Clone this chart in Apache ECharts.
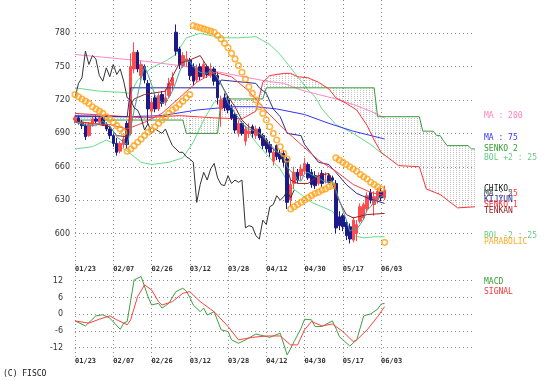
<!DOCTYPE html>
<html><head><meta charset="utf-8">
<script src="https://cdn.jsdelivr.net/npm/echarts@6/dist/echarts.min.js"></script>
<style>html,body{margin:0;padding:0;background:#fff}#c{width:554px;height:381px}</style>
</head><body><div id="c"></div>
<script>
// ---- tick labels ----
const tickLabels = ['01/23','02/07','02/26','03/12','03/28','04/12','04/30','05/17','06/03'];
const TICK_STEP = 11;
const N_CAT = 116;
const priceTicks = [600, 630, 660, 690, 720, 750, 780];
const macdTicks = [-12, -6, 0, 6, 12];

// ---- candles (index 0..89) ----
const opens = [702,704,700,697,688,698,703,700,704,698,694,688,681,674,680,699,690,748,763,742,
750,735,710,722,712,725,718,724,733,781,766,751,755,756,750,738,750,741,750,742,
748,742,712,722,720,713,707,690,699,683,690,696,688,694,688,684,680,665,679,672,
672,667,630,645,655,652,656,662,655,652,645,654,648,652,650,645,615,616,610,606,
594,600,611,614,622,637,626,630,638,632];
const highs = [706,706,702,699,700,705,706,705,706,700,696,690,686,683,688,701,762,772,765,755,
752,738,722,727,726,728,730,740,745,788,768,763,764,758,753,752,753,755,752,753,
750,745,724,726,724,716,709,702,701,697,699,698,697,696,690,686,683,676,680,675,
675,669,648,660,658,662,668,664,658,656,655,657,655,654,652,648,620,618,612,609,
615,612,627,628,637,640,638,641,641,643];
const lows = [699,698,694,684,687,696,699,698,697,692,685,678,670,672,677,676,688,744,745,738,
735,699,706,709,710,714,715,722,728,760,748,749,750,738,733,736,738,739,740,740,
733,716,696,710,708,702,690,687,688,679,686,686,685,684,676,673,669,661,666,664,
660,622,624,640,645,648,653,648,641,640,643,642,645,645,645,600,603,602,594,591,
592,593,609,612,619,627,616,627,629,630];
const closes = [704,700,697,687,698,703,701,704,698,694,688,681,673,681,685,680,750,763,748,752,
738,712,718,712,724,717,722,735,740,764,752,760,757,742,737,749,741,752,743,748,
737,722,720,713,711,704,693,699,690,694,692,690,694,686,679,676,673,673,669,667,
664,628,644,655,648,658,663,650,644,643,652,645,648,646,648,605,607,606,598,595,
612,608,624,626,634,630,633,638,632,639];

// ---- indicator lines: [barIndex, value] ----
const ma5 = [[0,700],[4,697],[6,697],[8,701],[10,697],[12,687],[14,682],[15,680],[16,694],[17,711],[18,724],[19,739],[20,750],[21,743],[22,734],[23,724],[24,721],[25,717],[26,719],[27,722],[28,728],[29,736],[30,745],[31,752],[32,755],[33,755],[34,750],[35,747],[36,745],[38,744],[39,747],[40,744],[41,740],[42,734],[43,728],[44,717],[45,714],[46,708],[47,704],[48,699],[49,696],[50,694],[52,692],[54,688],[56,680],[58,674],[60,669],[61,660],[62,656],[63,654],[64,648],[65,647],[66,654],[67,655],[68,653],[70,650],[72,646],[74,647],[75,639],[76,630],[77,621],[78,612],[79,602],[80,604],[81,604],[82,608],[83,613],[84,621],[85,624],[86,629],[87,632],[88,633],[89,634]];
const ma25 = [[0,700],[10,698],[15,694],[20,700],[25,708],[30,722],[35,736],[40,745],[45,741],[50,728],[55,710],[60,694],[65,680],[70,666],[75,656],[80,644],[85,637],[89,634]];
const ma75 = [[0,706],[15,705],[25,706],[35,711],[45,714],[52,714],[58,712],[66,707],[73,699],[80,692],[89,685]];
const ma200 = [[0,761],[10,758],[20,755],[30,751],[40,746],[50,740],[55,737],[60,735],[65,729],[70,725],[75,721],[80,716],[85,710],[89,704]];
const bolUp = [[0,731],[7,728],[13,727],[16,726],[18,738],[22,749],[26,755],[29,761],[32,776],[36,780],[42,776],[47,776],[52,777],[56,770],[59,761],[62,749],[65,737],[67,729],[69,723],[71,712],[75,698],[80,690],[85,680],[89,670]];
const bolDn = [[0,676],[5,678],[9,684],[12,680],[15,674],[19,664],[22,662],[27,664],[31,668],[34,682],[37,702],[40,718],[42,720],[45,712],[48,700],[52,682],[56,668],[59,658],[62,642],[65,635],[68,628],[71,624],[74,620],[77,608],[80,598],[83,596],[86,597],[89,597]];
const tenkan = [[0,701],[5,699],[10,696],[12,688],[15,687],[16,716],[17,721],[20,725],[26,728],[28,741],[30,753],[33,756],[36,760],[38,750],[41,740],[44,723],[46,714],[48,702],[50,696],[53,690],[56,679],[58,673],[60,670],[62,648],[64,645],[67,645],[70,652],[73,654],[75,636],[76,629],[78,617],[80,614],[84,617],[89,618]];
const kijun = [[0,705],[15,705],[16,731],[41,731],[42,738],[52,735],[53,731],[55,726],[57,712],[59,705],[61,690],[65,688],[66,680],[70,664],[73,662],[75,655],[78,644],[81,636],[84,632],[89,627]];
const senko1 = [[0,708],[10,706],[20,704],[30,706],[40,704],[48,703],[52,710],[54,736],[56,742],[60,744],[62,744],[64,741],[67,740],[70,736],[73,730],[75,722],[78,717],[81,711],[84,697],[86,684],[88,673],[93,661],[99,660],[100,650],[101,640],[105,635],[110,623],[115,624]];
const senko2 = [[0,702],[31,702],[32,690],[41,690],[42,721],[54,721],[55,731],[86,731],[87,705],[99,705],[100,692],[103,692],[104,688],[105,688],[106,683],[107,679],[113,679],[114,676],[115,676]];
const CHIKO_SHIFT = 26;
const sar = [725,723,721,719,717,714,712,710,708,705,703,700,697,694,691,
674,676,679,682,685,688,691,693,696,699,702,705,708,711,713,716,719,722,725,
787,786,785,784,783,782,781,778,775,771,767,762,757,751,745,739,732,726,720,714,708,702,696,690,684,678,672,667,
622,624,626,628,630,632,634,636,637,639,640,642,643,
668,666,664,662,660,658,656,653,651,649,646,644,642,640,
592];

// ---- MACD panel ----
const macd = [[0,-2.4],[3,-4.2],[6,-0.6],[8,-0.2],[10,-1.4],[13,-5.4],[14,-3.2],[15,-2.6],[17,12.3],[19,13.5],[21,6.3],[22,3.3],[24,3.9],[25,2.2],[27,3.9],[29,8.1],[31,9.3],[32,8.3],[33,6],[34,3.3],[36,0.9],[37,2.2],[38,-0.3],[40,0.9],[42,-5.6],[44,-6.2],[45,-9.2],[47,-10.4],[49,-9.2],[52,-7.1],[55,-8],[56,-8.3],[59,-6.8],[61,-14.6],[63,-9.8],[65,-5],[66,-1.8],[68,-2],[69,-4.4],[71,-4.4],[74,-2.4],[75,-5],[76,-8],[79,-11.4],[81,-9.2],[83,-0.6],[85,0.1],[87,1.8],[88,3.6],[89,3.9]];
const signal = [[0,-2.4],[4,-3.2],[7,-1.8],[10,-0.6],[12,-2],[15,-3.8],[16,-2],[18,6.3],[20,10.5],[22,8.7],[24,4.5],[25,3.3],[28,4.5],[31,7.5],[33,8.1],[36,4.5],[40,0.9],[44,-4.4],[47,-9.2],[51,-8.3],[55,-7.8],[59,-7.8],[62,-11],[64,-11],[66,-5.6],[68,-2.6],[71,-4.2],[74,-3.5],[77,-6.2],[80,-9.8],[81,-9.2],[84,-5.6],[87,-0.9],[89,2.7]];

// ---- build ----
const cats = Array.from({length: N_CAT}, (_, i) => String(i));
const isTick = i => i % TICK_STEP === 0 && i / TICK_STEP < tickLabels.length;
const fmtX = (v) => { const i = +v; return isTick(i) ? tickLabels[i / TICK_STEP] : ''; };
const candles = opens.map((o, i) => [o, closes[i], lows[i], highs[i]]);
const chiko = closes.map((c, i) => [i - CHIKO_SHIFT, c]).filter(p => p[0] >= 0);
const sarData = sar.map((v, i) => [i, v]);

const pc = document.createElement('canvas'); pc.width = 3; pc.height = 2;
const pg = pc.getContext('2d'); pg.fillStyle = '#c4c4c4'; pg.fillRect(0, 0, 1, 1);
const hatch = {type: 'pattern', image: pc, repeat: 'repeat'};

const dotted = {color: '#8a8a8a', type: [1, 3], width: 1};
const monoX = {fontFamily: 'DejaVu Sans Mono', fontWeight: 'bold', fontSize: 7, color: '#333'};

function line(data, color, z, xi, yi) {
  return {type: 'line', data, xAxisIndex: xi || 0, yAxisIndex: yi || 0, showSymbol: false, symbol: 'none',
    lineStyle: {color, width: 1}, z: z || 3, silent: true, clip: true};
}

const legend = [
  ['MA : 200', '#ff80c0', 116.5], ['MA : 75', '#3333ff', 138], ['SENKO 2', '#33a033', 149.3],
  ['BOL +2 : 25', '#66cc88', 158.3], ['CHIKO', '#111111', 189], ['MA : 25', '#ff3333', 194.5],
  ['MA : 5', '#339999', 194.5], ['KIJYUN', '#2a2a9a', 200], ['SENKO 1', '#ff3333', 205.7],
  ['TENKAN', '#992222', 211.7], ['BOL -2 : 25', '#66cc88', 236.3], ['PARABOLIC', '#ffaa22', 242.3],
  ['MACD', '#33a033', 282.7], ['SIGNAL', '#ff3333', 292.7]
];
const graphics = legend.map(([t, c, y]) => ({type: 'text', left: 484, top: y - 4.5,
  style: {text: t, fill: c, font: '8px "DejaVu Sans Mono"'}}));
graphics.push({type: 'text', left: 3, top: 369.5, style: {text: '(C) FISCO', fill: '#111', font: '8px "DejaVu Sans Mono"'}});

const chart = echarts.init(document.getElementById('c'), null, {renderer: 'canvas'});
chart.setOption({
  animation: false,
  backgroundColor: '#fff',
  grid: [
    {left: 75, width: 400, top: -5.8, height: 272.6},
    {left: 75, width: 400, top: 263.95, height: 100.5}
  ],
  xAxis: [0, 1].map(k => ({
    type: 'category', gridIndex: k, data: cats, boundaryGap: false,
    offset: k === 1 ? -7 : 0,
    axisLine: {show: false}, axisTick: {show: false},
    axisLabel: Object.assign({interval: (i) => isTick(i), formatter: fmtX, align: 'left', margin: k === 0 ? -1 : 0}, monoX),
    splitLine: {show: true, interval: (i) => isTick(i), lineStyle: dotted}
  })),
  yAxis: [
    {type: 'value', gridIndex: 0, min: 570, max: 810, interval: 30,
      axisLine: {show: false}, axisTick: {show: false},
      axisLabel: {fontSize: 8, fontFamily: 'DejaVu Sans', color: '#333', margin: 5,
        formatter: v => priceTicks.includes(v) ? String(v) : ''},
      splitLine: {show: true, lineStyle: dotted, showMinLine: false, showMaxLine: false}},
    {type: 'value', gridIndex: 1, min: -18, max: 18, interval: 6,
      axisLine: {show: false}, axisTick: {show: false},
      axisLabel: {fontSize: 8, fontFamily: 'DejaVu Sans', color: '#333', margin: 12,
        formatter: v => macdTicks.includes(v) ? String(v) : ''},
      splitLine: {show: true, lineStyle: dotted, showMinLine: false, showMaxLine: false}}
  ],
  graphic: graphics,
  series: [
    {type: 'custom', xAxisIndex: 0, yAxisIndex: 0, data: [[0, 700]], z: 1, silent: true,
      renderItem: (params, api) => {
        const pts = senko1.map(p => api.coord(p)).concat(senko2.slice().reverse().map(p => api.coord(p)));
        return {type: 'polygon', shape: {points: pts}, style: {fill: hatch, stroke: null}};
      }},
    line(bolUp, '#66dd88', 2), line(bolDn, '#66dd88', 2),
    line(ma200, '#ff88c8', 2), line(ma75, '#3333ff', 2),
    line(senko2, '#3a9a3a', 2), line(senko1, '#ff3333', 2),
    {type: 'candlestick', xAxisIndex: 0, yAxisIndex: 0, data: candles, barWidth: 3, z: 3, silent: true,
      itemStyle: {color: '#ff4d4d', color0: '#1a1a8a', borderColor: '#ff4d4d', borderColor0: '#1a1a8a', borderWidth: 1}},
    line(tenkan, '#992222', 4), line(kijun, '#2a2a9a', 4),
    line(ma25, '#ff4040', 4), line(ma5, '#40a0a0', 4),
    line(chiko, '#333333', 4),
    {type: 'scatter', xAxisIndex: 0, yAxisIndex: 0, data: sarData, symbol: 'circle', symbolSize: 5.5, z: 5, silent: true,
      itemStyle: {color: 'rgba(255,255,255,0)', borderColor: '#ffa31a', borderWidth: 1.6}},
    line(macd, '#40a040', 3, 1, 1), line(signal, '#ff4040', 3, 1, 1)
  ]
});
</script></body></html>
